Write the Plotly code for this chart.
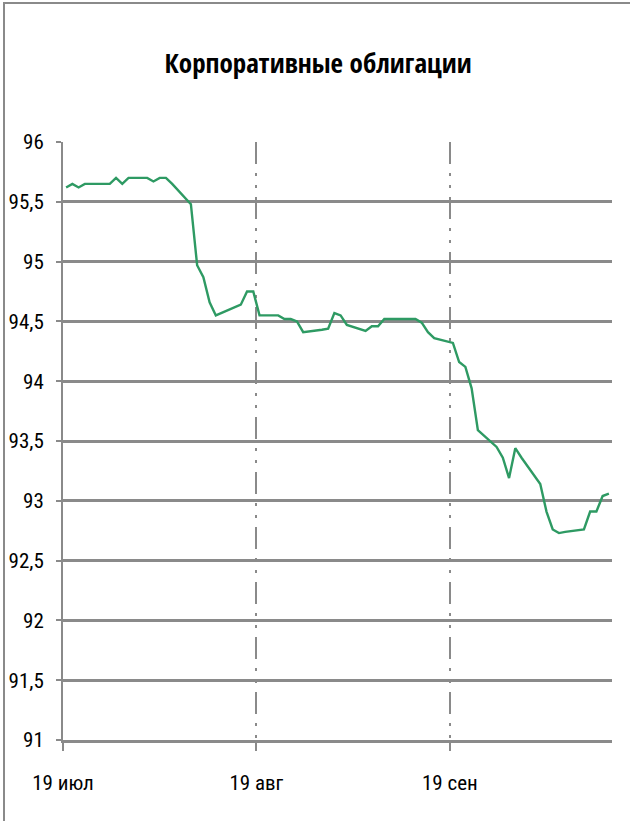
import pandas as pd
import plotly.graph_objects as go

# ---- data ----
dates = [
    "2011-07-19", "2011-07-20", "2011-07-21", "2011-07-22", "2011-07-25", "2011-07-26",
    "2011-07-27", "2011-07-28", "2011-07-29", "2011-08-01", "2011-08-02", "2011-08-03",
    "2011-08-04", "2011-08-05", "2011-08-08", "2011-08-09", "2011-08-10", "2011-08-11",
    "2011-08-12", "2011-08-15", "2011-08-16", "2011-08-17", "2011-08-18", "2011-08-19",
    "2011-08-22", "2011-08-23", "2011-08-24", "2011-08-25", "2011-08-26", "2011-08-29",
    "2011-08-30", "2011-08-31", "2011-09-01", "2011-09-02", "2011-09-05", "2011-09-06",
    "2011-09-07", "2011-09-08", "2011-09-09", "2011-09-12", "2011-09-13", "2011-09-14",
    "2011-09-15", "2011-09-16", "2011-09-19", "2011-09-20", "2011-09-21", "2011-09-22",
    "2011-09-23", "2011-09-26", "2011-09-27", "2011-09-28", "2011-09-29", "2011-09-30",
    "2011-10-03", "2011-10-04", "2011-10-05", "2011-10-06", "2011-10-07", "2011-10-10",
    "2011-10-11", "2011-10-12", "2011-10-13", "2011-10-14",
]
values = [
    95.62, 95.65, 95.62, 95.65, 95.65, 95.65,
    95.70, 95.65, 95.70, 95.70, 95.67, 95.70,
    95.70, 95.65, 95.48, 94.97, 94.87, 94.66,
    94.55, 94.62, 94.64, 94.75, 94.75, 94.55,
    94.55, 94.52, 94.52, 94.50, 94.41, 94.43,
    94.44, 94.57, 94.55, 94.47, 94.42, 94.46,
    94.46, 94.52, 94.52, 94.52, 94.52, 94.49,
    94.41, 94.36, 94.32, 94.16, 94.12, 93.94,
    93.59, 93.45, 93.36, 93.19, 93.44, 93.36,
    93.14, 92.91, 92.76, 92.73, 92.74, 92.76,
    92.91, 92.91, 93.04, 93.06,
]
x_tick_vals = ["2011-07-19", "2011-08-19", "2011-09-19"]
x_tick_text = ["19 июл", "19 авг", "19 сен"]
x_range = ["2011-07-19", "2011-10-15"]
y_tick_vals = [91, 91.5, 92, 92.5, 93, 93.5, 94, 94.5, 95, 95.5, 96]
y_tick_text = ["91", "91,5", "92", "92,5", "93", "93,5", "94", "94,5", "95", "95,5", "96"]
title_text = "Корпоративные облигации"

# points sit in the middle of each day (Excel date axis, between tick marks)
x_vals = pd.to_datetime(dates) + pd.Timedelta(hours=12)

TICK_FONT = "Roboto Condensed, DejaVu Sans Condensed, sans-serif"
TITLE_FONT = "Open Sans Condensed, Roboto Condensed, sans-serif"
GRID = "#8a8a8a"

fig = go.Figure()
fig.add_trace(go.Scatter(
    x=x_vals, y=values, mode="lines",
    line=dict(color="#2e9a63", width=2.4),
    showlegend=False, hoverinfo="skip",
))

fig.update_layout(
    width=630, height=821,
    margin=dict(l=63, r=18, t=142, b=81),
    paper_bgcolor="white", plot_bgcolor="white",
    title=dict(
        text=title_text, x=0.505, xanchor="center",
        y=1 - 64 / 821, yanchor="middle", yref="container",
        font=dict(family=TITLE_FONT, size=27, color="black", weight="bold"),
    ),
    xaxis=dict(
        type="date", range=x_range,
        tickvals=x_tick_vals, ticktext=x_tick_text,
        showgrid=True, gridcolor=GRID, gridwidth=2,
        griddash="22px,9px,3px,9px,3px,9px",
        showline=True, linecolor=GRID, linewidth=3,
        ticks="outside", ticklen=8, tickwidth=2, tickcolor=GRID,
        tickfont=dict(family=TICK_FONT, size=21, color="black"),
        ticklabelstandoff=14,
        zeroline=False, fixedrange=True, automargin=False,
    ),
    yaxis=dict(
        range=[91, 96],
        tickvals=y_tick_vals, ticktext=y_tick_text,
        showgrid=True, gridcolor=GRID, gridwidth=3,
        showline=True, linecolor=GRID, linewidth=2,
        ticks="outside", ticklen=5, tickwidth=2, tickcolor=GRID,
        tickfont=dict(family=TICK_FONT, size=21, color="black"),
        ticklabelstandoff=8,
        zeroline=False, fixedrange=True, automargin=False,
    ),
    shapes=[dict(
        type="rect", xref="paper", yref="paper",
        x0=(4 - 63) / 549, x1=1.2, y0=-0.3, y1=(740 - 3) / 598,
        line=dict(color="#8a8a8a", width=2), fillcolor="rgba(0,0,0,0)",
        layer="below",
    )],
)

fig.write_html(
    "out.html",
    config={"displayModeBar": False, "staticPlot": True},
    post_script="document.body.style.margin='0';",
)
